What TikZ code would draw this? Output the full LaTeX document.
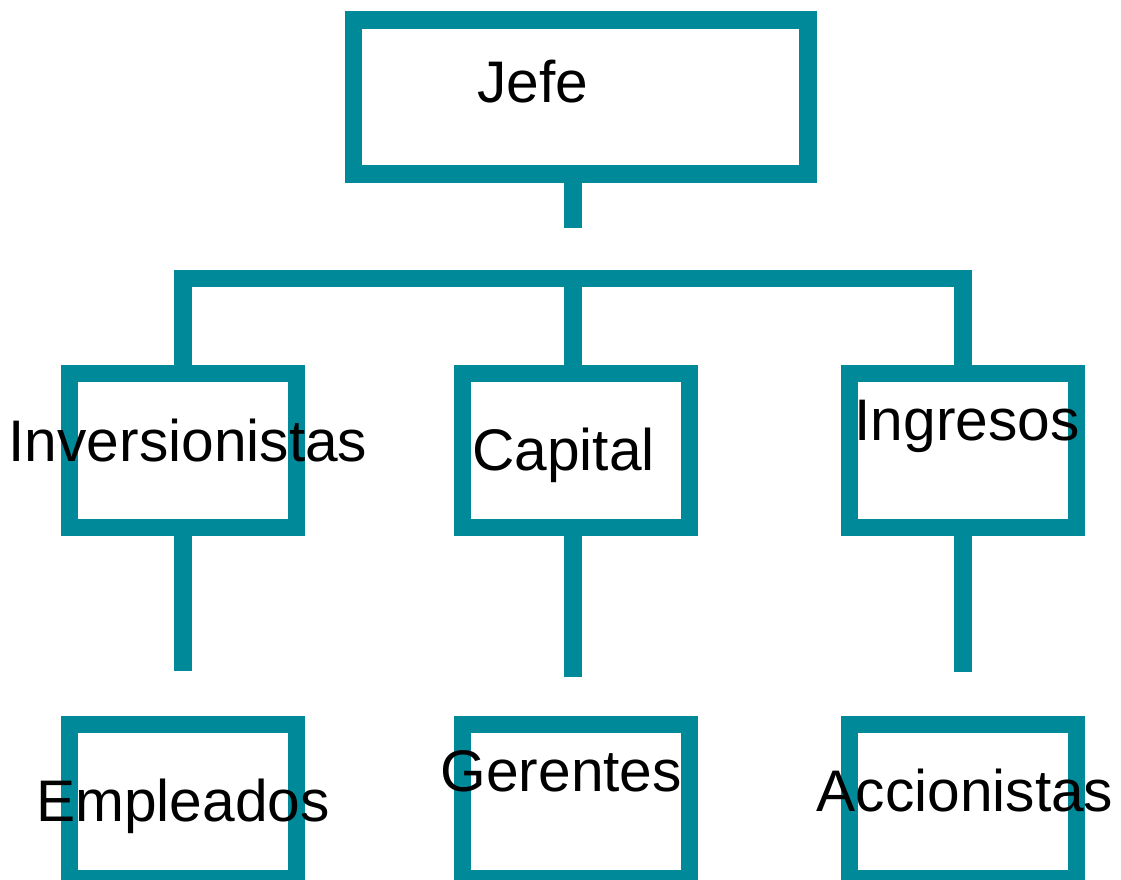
\documentclass[tikz,border=0pt]{standalone}
\usepackage{fontspec}
\setmainfont{Liberation Sans}
\definecolor{teal1}{RGB}{0,138,153}
\begin{document}
\begin{tikzpicture}[x=0.75pt,y=-0.75pt,
  box/.style={draw=teal1,line width=13.1pt,rectangle,inner sep=0pt,
    minimum width=170.25pt,minimum height=115.5pt},
  conn/.style={draw=teal1,line width=13.1pt,line cap=butt,line join=miter},
  lbl/.style={anchor=base,inner sep=0pt,font=\fontsize{44}{53}\selectfont}]
\useasboundingbox (0,0) rectangle (1121,879);
% boxes
\node[box,minimum width=341pt] (jefe) at (580.7,97.2) {};
\node[box] (inv) at (182.9,450.3) {};
\node[box] (cap) at (576,450.3) {};
\node[box] (ing) at (962.9,450.3) {};
\node[box] (emp) at (182.9,801.5) {};
\node[box] (ger) at (576,801.5) {};
\node[box] (acc) at (962.9,801.5) {};
% connector points
\coordinate (mid) at (573,278.7);
\coordinate (jefeend) at (573,227.7);
\coordinate (invend) at (182.9,671.3);
\coordinate (capend) at (573,677.3);
\coordinate (ingend) at (962.9,671.7);
% connectors
\draw[conn] (mid |- jefe.south) -- (jefeend);
\draw[conn] (inv.north) |- (mid) -| (ing.north);
\draw[conn] (mid) -- (mid |- cap.north);
\draw[conn] (inv.south) -- (invend);
\draw[conn] (capend |- cap.south) -- (capend);
\draw[conn] (ing.south) -- (ingend);
% labels
\node[lbl] (tjefe) at (533,102) {Jefe};
\node[lbl] (tinv) at (188,461) {Inversionistas};
\node[lbl] (tcap) at (563.5,470) {Capital};
\node[lbl] (ting) at (967,440) {Ingresos};
\node[lbl] (temp) at (183,821.7) {Empleados};
\node[lbl] (tger) at (561.3,791.7) {Gerentes};
\node[lbl] (tacc) at (965,811.7) {Accionistas};
\end{tikzpicture}
\end{document}
